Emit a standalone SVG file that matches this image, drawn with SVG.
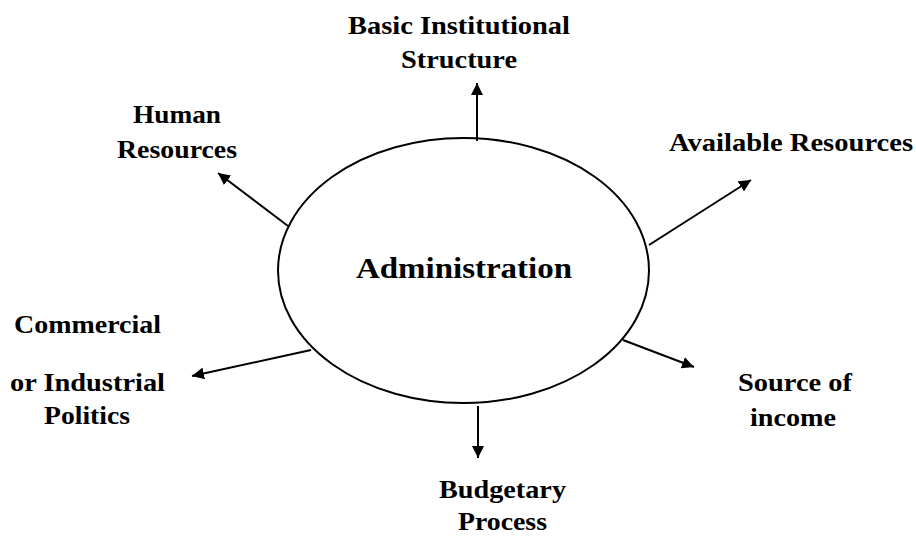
<svg xmlns="http://www.w3.org/2000/svg" width="916" height="537" viewBox="0 0 916 537">
<style>
text{font-family:"Liberation Serif","Times New Roman",serif;font-weight:bold;fill:#000;}
.lbl{font-size:25px;}
.main{font-size:30px;}
.conn line{stroke:#000;stroke-width:2;fill:none;}
</style>
<defs>
<marker id="ah" markerWidth="12" markerHeight="12" refX="10" refY="5" orient="auto" markerUnits="userSpaceOnUse" viewBox="0 0 10 10">
<path d="M0,0 L10,5 L0,10 z" fill="#000"/>
</marker>
</defs>
<rect width="916" height="537" fill="#fff"/>
<g id="administration">
<ellipse cx="463.5" cy="270.5" rx="185.5" ry="132.5" fill="#fff" stroke="#000" stroke-width="2"/>
<text class="main" x="356" y="278" textLength="216" lengthAdjust="spacingAndGlyphs">Administration</text>
</g>
<g id="basic-institutional-structure">
<text class="lbl" x="348" y="34" textLength="222" lengthAdjust="spacingAndGlyphs">Basic Institutional</text>
<text class="lbl" x="401" y="68" textLength="116" lengthAdjust="spacingAndGlyphs">Structure</text>
</g>
<g id="human-resources">
<text class="lbl" x="133" y="123" textLength="88" lengthAdjust="spacingAndGlyphs">Human</text>
<text class="lbl" x="117" y="158" textLength="120" lengthAdjust="spacingAndGlyphs">Resources</text>
</g>
<g id="available-resources">
<text class="lbl" x="669" y="151" textLength="244" lengthAdjust="spacingAndGlyphs">Available Resources</text>
</g>
<g id="commercial-politics">
<text class="lbl" x="14" y="333" textLength="147" lengthAdjust="spacingAndGlyphs">Commercial</text>
<text class="lbl" x="10" y="391" textLength="155" lengthAdjust="spacingAndGlyphs">or Industrial</text>
<text class="lbl" x="44" y="424" textLength="86" lengthAdjust="spacingAndGlyphs">Politics</text>
</g>
<g id="source-of-income">
<text class="lbl" x="738" y="391" textLength="114" lengthAdjust="spacingAndGlyphs">Source of</text>
<text class="lbl" x="750" y="426" textLength="86" lengthAdjust="spacingAndGlyphs">income</text>
</g>
<g id="budgetary-process">
<text class="lbl" x="439" y="498" textLength="127" lengthAdjust="spacingAndGlyphs">Budgetary</text>
<text class="lbl" x="458" y="530" textLength="89" lengthAdjust="spacingAndGlyphs">Process</text>
</g>
<g id="connectors" class="conn">
<line x1="477" y1="141" x2="477" y2="83" marker-end="url(#ah)"/>
<line x1="288" y1="226" x2="218" y2="173" marker-end="url(#ah)"/>
<line x1="649" y1="245" x2="751" y2="180" marker-end="url(#ah)"/>
<line x1="311" y1="350" x2="192" y2="376" marker-end="url(#ah)"/>
<line x1="478" y1="406" x2="478" y2="458" marker-end="url(#ah)"/>
<line x1="623" y1="340" x2="694" y2="367" marker-end="url(#ah)"/>
</g>
</svg>
